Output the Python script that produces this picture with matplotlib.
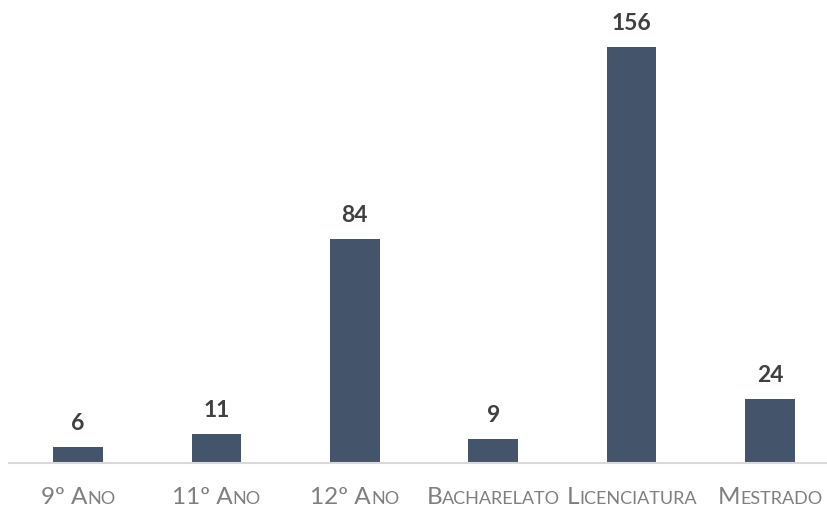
import matplotlib
matplotlib.use("Agg")
import matplotlib.pyplot as plt
from matplotlib.offsetbox import TextArea, HPacker, AnnotationBbox

categories = ["9º Ano", "11º Ano", "12º Ano", "Bacharelato", "Licenciatura", "Mestrado"]
values = [6, 11, 84, 9, 156, 24]

FONT = "Lato"
BAR = "#44546A"
big, small = 17.5, 13

fig = plt.figure(figsize=(8.28, 5.08), dpi=100)
ax = fig.add_axes([9/828, 45/508, 819/828, 463/508])
x = list(range(len(categories)))
ax.bar(x, values, width=0.36, color=BAR)
ax.set_xlim(-0.5, 5.42)
ax.set_ylim(0, 173.6)
for s in ["top", "right", "left"]:
    ax.spines[s].set_visible(False)
ax.spines["bottom"].set_color("#D9D9D9")
ax.spines["bottom"].set_linewidth(1.5)
ax.set_yticks([])
ax.set_xticks(x)
ax.set_xticklabels([])
ax.tick_params(axis="x", length=0)

for xi, v in zip(x, values):
    ax.annotate(str(v), (xi, v), xytext=(0, 9), textcoords="offset points",
                ha="center", va="bottom", fontsize=16.5, fontweight="bold",
                color="#404040", family=FONT)

def runs(label):
    out = []
    for c in label:
        if c.isalpha() and c.islower() and c.upper() != c:
            ch, sz = c.upper(), small
        else:
            ch, sz = c, big
        if out and out[-1][1] == sz:
            out[-1][0] += ch
        else:
            out.append([ch, sz])
    return out

for xi, lab in zip(x, categories):
    parts = [TextArea(t, textprops=dict(fontsize=sz, color="#7F7F7F", family=FONT))
             for t, sz in runs(lab)]
    box = HPacker(children=parts, align="baseline", pad=0, sep=0)
    ab = AnnotationBbox(box, (xi, 0), xycoords=ax.get_xaxis_transform(),
                        xybox=(0, -17), boxcoords="offset points",
                        box_alignment=(0.5, 1), frameon=False, pad=0,
                        annotation_clip=False)
    ax.add_artist(ab)

fig.savefig("out.png", dpi=100)
